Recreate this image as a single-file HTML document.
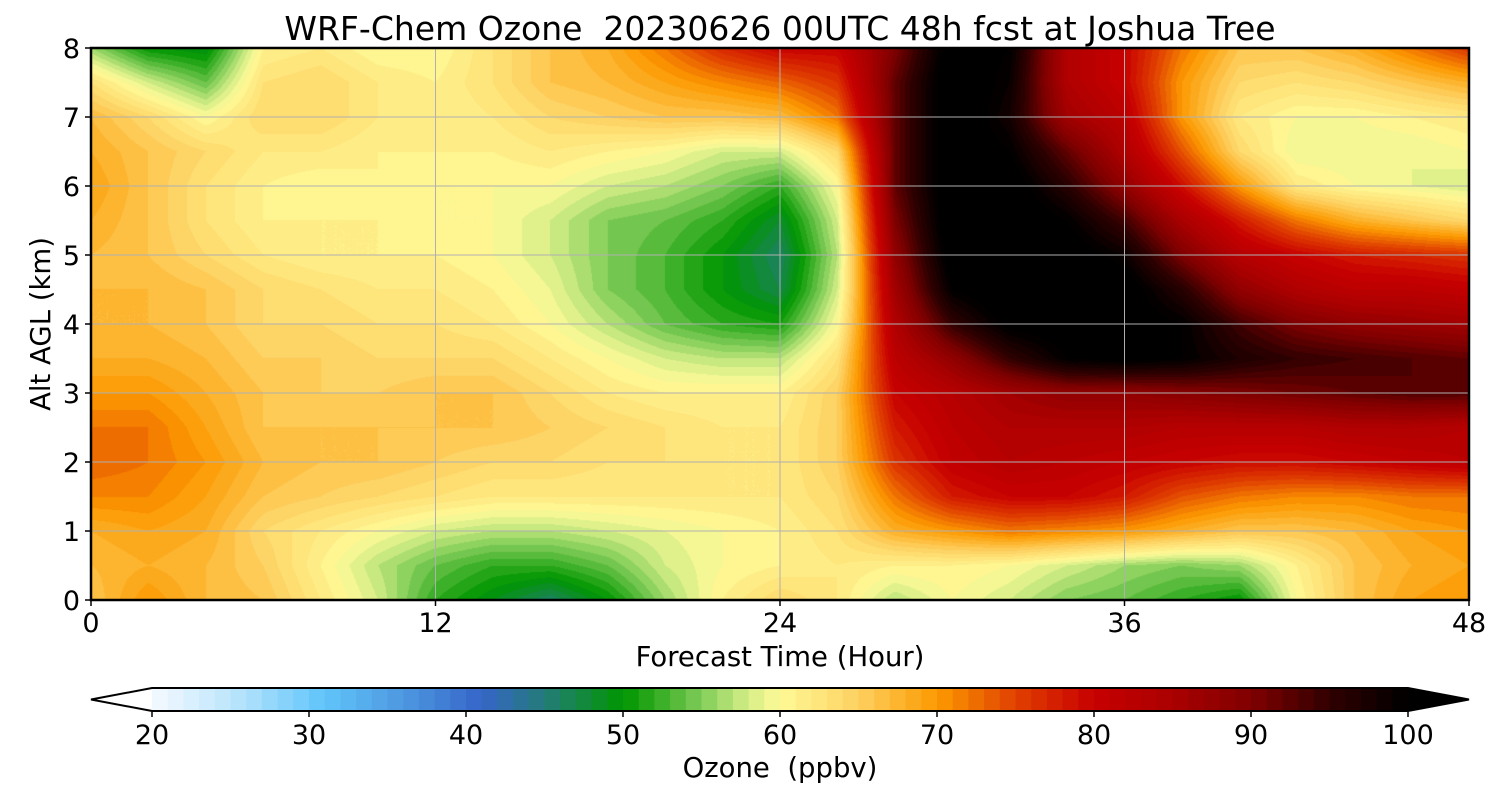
<!DOCTYPE html>
<html><head><meta charset="utf-8">
<style>
body{margin:0;background:#fff;width:1500px;height:800px;overflow:hidden;font-family:"DejaVu Sans","Liberation Sans",sans-serif;}
#root{position:relative;width:1500px;height:800px;}
canvas{position:absolute;left:91px;top:48px;}
svg{position:absolute;left:0;top:0;font-family:"DejaVu Sans","Liberation Sans",sans-serif;}
</style></head>
<body><div id="root">
<canvas id="hm" width="1378" height="552"></canvas>
<svg id="sv" width="1500" height="800"></svg>
</div>
<script>
const hours=[0,2,4,6,8,10,12,14,16,18,20,22,24,26,28,30,32,34,36,38,40,42,44,46,48];
const alts=[0,0.5,1,1.5,2,2.5,3,3.5,4,4.5,5,5.5,6,6.5,7,7.5,8];
const z0  =[66,70,67,66,62,58,52,49,46,50,56,61,64,62,57,60,58,55,54,52,50,60,66,69,70];
const z05 =[67,68,67,65,61,57,54,52,52,54,58,60,61,62,61,61,60,58,56,55,56,61,66,68,69];
const z1  =[68,69,68,64,62,60,58,57,57,58,59,60,61,63,68,70,72,71,70,68,66,66,67,69,70];
const z15 =[71,71,69,66,65,64,63,62,62,62,62,62,62,64,72,78,80,80,78,74,72,71,71,72,72];
const z2  =[73,72,70,67,66,66,65,64,64,63,63,62,62,65,76,81,83,82,81,80,79,79,80,81,82];
const z25 =[72,72,69,66,66,66,66,66,65,64,63,62,62,65,78,82,84,84,84,83,83,83,84,84,83];
const z3  =[70,70,68,66,65,65,66,66,64,62,61,61,61,65,80,83,86,88,88,89,90,91,92,93,93];
const z35 =[68,68,67,65,65,64,64,64,62,60,58,57,57,63,82,88,95,100,101,100,97,95,94,93,92];
const z4  =[67,67,66,64,64,63,63,62,60,57,54,52,51,60,84,95,101,102,102,100,94,90,88,87,86];
const z45 =[67,67,66,64,63,62,62,61,59,55,53,50,47,58,86,100,103,103,102,96,88,84,82,82,81];
const z5  =[67,66,64,62,61,61,61,60,58,55,53,50,46,57,88,102,103,102,99,90,83,80,78,77,76];
const z55 =[68,66,63,61,61,61,60,60,58,55,54,52,48,58,90,103,103,100,94,85,78,72,68,66,64];
const z6  =[69,66,63,61,60,61,60,60,60,58,57,55,52,60,92,103,102,96,88,79,70,62,60,59,58];
const z65 =[68,66,64,62,62,61,61,61,62,61,60,58,58,64,92,103,100,92,84,74,64,59,59,59,60];
const z7  =[67,64,60,64,64,62,61,62,64,65,66,66,67,72,92,103,98,86,82,70,62,60,60,61,62];
const z75 =[63,58,54,63,64,62,61,63,66,67,69,71,73,76,92,103,99,84,80,70,64,63,64,66,68];
const z8  =[56,50,49,61,62,60,60,63,66,68,72,77,80,80,90,102,100,84,80,72,66,66,68,72,76];
const grid=[z0,z05,z1,z15,z2,z25,z3,z35,z4,z45,z5,z55,z6,z65,z7,z75,z8];
const xTicks=[0,12,24,36,48];
const yTicks=[0,1,2,3,4,5,6,7,8];
const cbTicks=[20,30,40,50,60,70,80,90,100];
const cmapV=[20,25,31,36,41,45,50,52,55,58,60,65,70,75,80,85,90,95,100];
const cmapC=["#f4f9ff","#bde6fc","#60c4fa","#4d98e0","#3565c8","#247c78","#009600","#30aa20","#80cc58","#d6ee88","#fffa98","#fdd060","#fc9a00","#e04000","#c80000","#aa0000","#800000","#300000","#000000"];

const PX=91,PY=48,PW=1378,PH=552;
const xs=t=>PX+t/48*PW, ys=a=>PY+PH-a/8*PH;
function hex(c){return [1,3,5].map(i=>parseInt(c.substr(i,2),16));}
const cm=cmapC.map(hex);
function color(v){
  if(v<=cmapV[0])return cm[0];
  if(v>=100)return [0,0,0];
  for(let i=1;i<cmapV.length;i++){if(v<=cmapV[i]){const f=(v-cmapV[i-1])/(cmapV[i]-cmapV[i-1]);return cm[i].map((c,k)=>Math.round(cm[i-1][k]+(c-cm[i-1][k])*f));}}
}
function sample(t,a){
  let i=Math.min(hours.length-2,Math.max(0,hours.findIndex((h,k)=>k<hours.length-1&&t>=h&&t<=hours[k+1])));
  let j=Math.min(alts.length-2,Math.floor(a/0.5));
  const fx=(t-hours[i])/(hours[i+1]-hours[i]),fy=(a-alts[j])/(alts[j+1]-alts[j]);
  const v00=grid[j][i],v10=grid[j][i+1],v01=grid[j+1][i],v11=grid[j+1][i+1];
  return v00*(1-fx)*(1-fy)+v10*fx*(1-fy)+v01*(1-fx)*fy+v11*fx*fy;
}
const cv=document.getElementById('hm'),ctx=cv.getContext('2d');
const img=ctx.createImageData(PW,PH);
for(let y=0;y<PH;y++){const a=(PH-y-0.5)/PH*8;
  for(let x=0;x<PW;x++){const t=(x+0.5)/PW*48;
    const v=Math.floor(sample(t,a)); const c=color(v+0.5);
    const o=(y*PW+x)*4; img.data[o]=c[0];img.data[o+1]=c[1];img.data[o+2]=c[2];img.data[o+3]=255;}}
ctx.putImageData(img,0,0);

const S=document.getElementById('sv'),NS='http://www.w3.org/2000/svg';
function el(tag,at,txt){const e=document.createElementNS(NS,tag);for(const k in at)e.setAttribute(k,at[k]);if(txt!=null)e.textContent=txt;S.appendChild(e);return e;}
xTicks.forEach(t=>{
  const g=el('line',{x1:xs(t),x2:xs(t),y1:PY,y2:PY+PH,stroke:'#b0b0b0','stroke-width':1});
  
  
  const tk=el('line',{x1:xs(t),x2:xs(t),y1:PY+PH,y2:PY+PH+6,stroke:'#000','stroke-width':1.5});
  
  
  const l=el('text',{x:xs(t),y:632,'text-anchor':'middle','font-size':27},t);
  
  
});
yTicks.forEach(a=>{
  const g=el('line',{x1:PX,x2:PX+PW,y1:ys(a),y2:ys(a),stroke:'#b0b0b0','stroke-width':1});
  
  
  const tk=el('line',{x1:PX-6,x2:PX,y1:ys(a),y2:ys(a),stroke:'#000','stroke-width':1.5});
  
  
  const l=el('text',{x:80,y:ys(a)+10,'text-anchor':'end','font-size':27},a);
  
  
});
const fr=el('rect',{x:PX,y:PY,width:PW,height:PH,fill:'none',stroke:'#000','stroke-width':2.5});


const ti=el('text',{x:780,y:40,'text-anchor':'middle','font-size':33},'WRF-Chem Ozone  20230626 00UTC 48h fcst at Joshua Tree');


ti.style.whiteSpace='pre';
const xl=el('text',{x:780,y:666,'text-anchor':'middle','font-size':27.5},'Forecast Time (Hour)');


const yl=el('text',{x:0,y:0,'text-anchor':'middle','font-size':27.5,transform:'translate(50,324) rotate(-90)'},'Alt AGL (km)');



// colorbar
const CX0=152,CX1=1408,CY=688,CH=23;
const cx=v=>CX0+(v-20)/80*(CX1-CX0);
const lt=el('polygon',{points:`${CX0},${CY} 91,${CY+CH/2} ${CX0},${CY+CH}`,fill:'#fff'});


const rt=el('polygon',{points:`${CX1},${CY} 1469,${CY+CH/2} ${CX1},${CY+CH}`,fill:'#000'});


for(let v=20;v<100;v++){
  const r=el('rect',{x:cx(v),y:CY,width:cx(v+1)-cx(v)+0.6,height:CH,fill:'rgb('+color(v+0.5).join(',')+')'});
  
  
}
const cbo=el('polygon',{points:`${CX0},${CY} ${CX1},${CY} 1469,${CY+CH/2} ${CX1},${CY+CH} ${CX0},${CY+CH} 91,${CY+CH/2}`,fill:'none',stroke:'#000','stroke-width':2});


cbTicks.forEach(v=>{
  const tk=el('line',{x1:cx(v),x2:cx(v),y1:CY+CH,y2:CY+CH+6,stroke:'#000','stroke-width':1.5});
  
  
  const l=el('text',{x:cx(v),y:744,'text-anchor':'middle','font-size':27},v);
  
  
});
const cl=el('text',{x:780,y:777,'text-anchor':'middle','font-size':27.5},'Ozone  (ppbv)');


cl.style.whiteSpace='pre';
</script>
</body></html>
